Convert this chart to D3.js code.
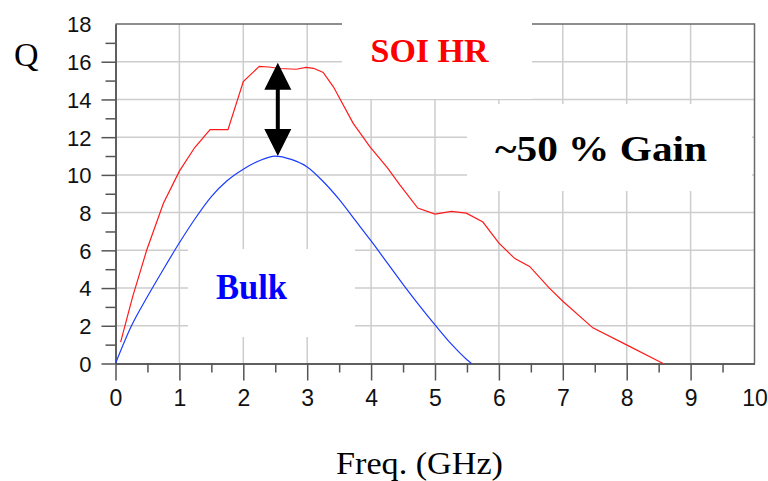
<!DOCTYPE html>
<html>
<head>
<meta charset="utf-8">
<script src="https://cdn.jsdelivr.net/npm/d3@7"></script>
<style>
  body { margin: 0; background: #fff; }
  svg { display: block; }
  .axis text { font-family: "Liberation Sans", Arial, sans-serif; fill: #111; }
  .axis .domain, .axis line { stroke: #555; stroke-width: 1.5; }
</style>
</head>
<body>
<svg width="768" height="481"></svg>
<script>
// Q vs frequency
var freqSoi = [0.08, 0.27, 0.49, 0.75, 1.0, 1.24, 1.48, 1.76, 2.0, 2.25, 2.4, 2.57, 2.83, 2.98, 3.1, 3.25, 3.41, 3.72, 3.98, 4.25, 4.45, 4.73, 5.0, 5.26, 5.49, 5.75, 6.0, 6.25, 6.48, 6.79, 7.0, 7.47, 7.99, 8.57];
var qSoi    = [1.13, 3.56, 6.03, 8.5, 10.2, 11.45, 12.4, 12.4, 14.95, 15.75, 15.72, 15.64, 15.6, 15.7, 15.65, 15.43, 14.67, 12.73, 11.5, 10.4, 9.47, 8.24, 7.92, 8.06, 7.97, 7.5, 6.38, 5.56, 5.15, 4.0, 3.3, 1.89, 1.0, 0];

var freqBulk = [0, 0.25, 0.5, 0.75, 1.0, 1.25, 1.5, 1.75, 2.0, 2.25, 2.5, 2.75, 3.0, 3.25, 3.5, 3.75, 4.0, 4.25, 4.5, 4.75, 5.0, 5.25, 5.5, 5.57];
var qBulk    = [0, 2.0, 3.55, 5.0, 6.4, 7.7, 8.85, 9.7, 10.3, 10.75, 11.0, 10.82, 10.42, 9.65, 8.7, 7.6, 6.5, 5.35, 4.2, 3.1, 2.05, 1.05, 0.2, 0];

var xTicks = d3.range(0, 11);
var xMinorTicks = d3.range(0.5, 10, 1);
var yTicks = d3.range(0, 19, 2);
var yMinorTicks = d3.range(1, 18, 2);

// gain arrow: frequency and the two Q values it spans
var arrowFreq = 2.54;
var arrowQ = [15.94, 11.0];

var svg = d3.select("svg"),
    margin = {top: 24, right: 13.5, bottom: 117.5, left: 115.5},
    width = +svg.attr("width") - margin.left - margin.right,
    height = +svg.attr("height") - margin.top - margin.bottom;

var x = d3.scaleLinear().domain([0, 10]).range([0, width]);
var y = d3.scaleLinear().domain([0, 18]).range([height, 0]);

var g = svg.append("g")
    .attr("transform", "translate(" + margin.left + "," + margin.top + ")");

// grid
g.append("g").selectAll("line")
  .data(xTicks.slice(1, -1))
  .enter().append("line")
    .attr("x1", function(d) { return x(d); })
    .attr("x2", function(d) { return x(d); })
    .attr("y1", 0).attr("y2", height)
    .attr("stroke", "#cdcdcd").attr("stroke-width", 1.5);

g.append("g").selectAll("line")
  .data(yTicks.slice(1, -1))
  .enter().append("line")
    .attr("y1", function(d) { return y(d); })
    .attr("y2", function(d) { return y(d); })
    .attr("x1", 0).attr("x2", width)
    .attr("stroke", "#cdcdcd").attr("stroke-width", 1.5);

// top and right frame
g.append("path")
    .attr("d", "M0,0H" + width + "V" + height)
    .attr("fill", "none")
    .attr("stroke", "#6a6a6a")
    .attr("stroke-width", 1.5);

// white label boxes over the grid
var boxes = [
  [226.5, -24, 190, 99],
  [351.5, 80, 285, 87],
  [72.5, 225, 167, 88]
];
g.append("g").selectAll("rect")
  .data(boxes)
  .enter().append("rect")
    .attr("x", function(d) { return d[0]; })
    .attr("y", function(d) { return d[1]; })
    .attr("width", function(d) { return d[2]; })
    .attr("height", function(d) { return d[3]; })
    .attr("fill", "#fff");

// axes
g.append("g")
    .attr("class", "axis")
    .attr("transform", "translate(0," + height + ")")
    .call(d3.axisBottom(x).tickValues(xMinorTicks).tickSize(9).tickSizeOuter(0).tickFormat(""));

var xAxis = g.append("g")
    .attr("class", "axis")
    .attr("transform", "translate(0," + height + ")")
    .call(d3.axisBottom(x).tickValues(xTicks).tickSize(17).tickSizeOuter(0).tickPadding(9));
xAxis.selectAll("text").style("font-size", "23px");
xAxis.selectAll(".tick").filter(function(d) { return d === 10; }).select("line").remove();

g.append("g")
    .attr("class", "axis")
    .call(d3.axisLeft(y).tickValues(yMinorTicks).tickSize(10).tickSizeOuter(0).tickFormat(""));

var yAxis = g.append("g")
    .attr("class", "axis")
    .call(d3.axisLeft(y).tickValues(yTicks).tickSize(14).tickSizeOuter(0).tickPadding(10));
yAxis.selectAll("text").style("font-size", "22px").attr("dy", "0.36em");
yAxis.selectAll(".tick").filter(function(d) { return d === 18; }).select("line").remove();

// curves
var line = d3.line()
    .x(function(d) { return x(d[0]); })
    .y(function(d) { return y(d[1]); });

g.append("path")
    .datum(d3.zip(freqBulk, qBulk))
    .attr("fill", "none")
    .attr("stroke", "#1a3cff")
    .attr("stroke-width", 1.2)
    .attr("d", line.curve(d3.curveMonotoneX));

g.append("path")
    .datum(d3.zip(freqSoi, qSoi))
    .attr("fill", "none")
    .attr("stroke", "#ff1a1a")
    .attr("stroke-width", 1.2)
    .attr("d", line.curve(d3.curveLinear));

// double arrow
var ax = x(arrowFreq), aTop = y(arrowQ[0]), aBot = y(arrowQ[1]), head = 27, half = 13.5;
g.append("line")
    .attr("x1", ax).attr("x2", ax)
    .attr("y1", aTop + head - 2).attr("y2", aBot - head + 2)
    .attr("stroke", "#000").attr("stroke-width", 4);
g.append("path")
    .attr("d", "M" + ax + "," + aTop + "L" + (ax + half) + "," + (aTop + head) + "L" + (ax - half) + "," + (aTop + head) + "Z" +
               "M" + ax + "," + aBot + "L" + (ax + half) + "," + (aBot - head) + "L" + (ax - half) + "," + (aBot - head) + "Z")
    .attr("fill", "#000");

// texts
svg.append("text")
    .attr("x", 14).attr("y", 66)
    .style("font-family", "'Liberation Serif', 'Times New Roman', serif")
    .style("font-size", "34px")
    .text("Q");

svg.append("text")
    .attr("x", 336).attr("y", 474)
    .attr("textLength", 167).attr("lengthAdjust", "spacingAndGlyphs")
    .style("font-family", "'Liberation Serif', 'Times New Roman', serif")
    .style("font-size", "31px")
    .text("Freq. (GHz)");

svg.append("text")
    .attr("x", 370.5).attr("y", 61.5)
    .attr("textLength", 118).attr("lengthAdjust", "spacingAndGlyphs")
    .style("font-family", "'Liberation Serif', 'Times New Roman', serif")
    .style("font-size", "34px")
    .style("font-weight", "bold")
    .attr("fill", "#ff0000")
    .text("SOI HR");

svg.append("text")
    .attr("x", 495).attr("y", 161)
    .attr("textLength", 212).attr("lengthAdjust", "spacingAndGlyphs")
    .style("font-family", "'Liberation Serif', 'Times New Roman', serif")
    .style("font-size", "36px")
    .style("font-weight", "bold")
    .attr("fill", "#000")
    .text("~50 % Gain");

svg.append("text")
    .attr("x", 216).attr("y", 299)
    .attr("textLength", 71).attr("lengthAdjust", "spacingAndGlyphs")
    .style("font-family", "'Liberation Serif', 'Times New Roman', serif")
    .style("font-size", "35px")
    .style("font-weight", "bold")
    .attr("fill", "#0000ff")
    .text("Bulk");
</script>
</body>
</html>
